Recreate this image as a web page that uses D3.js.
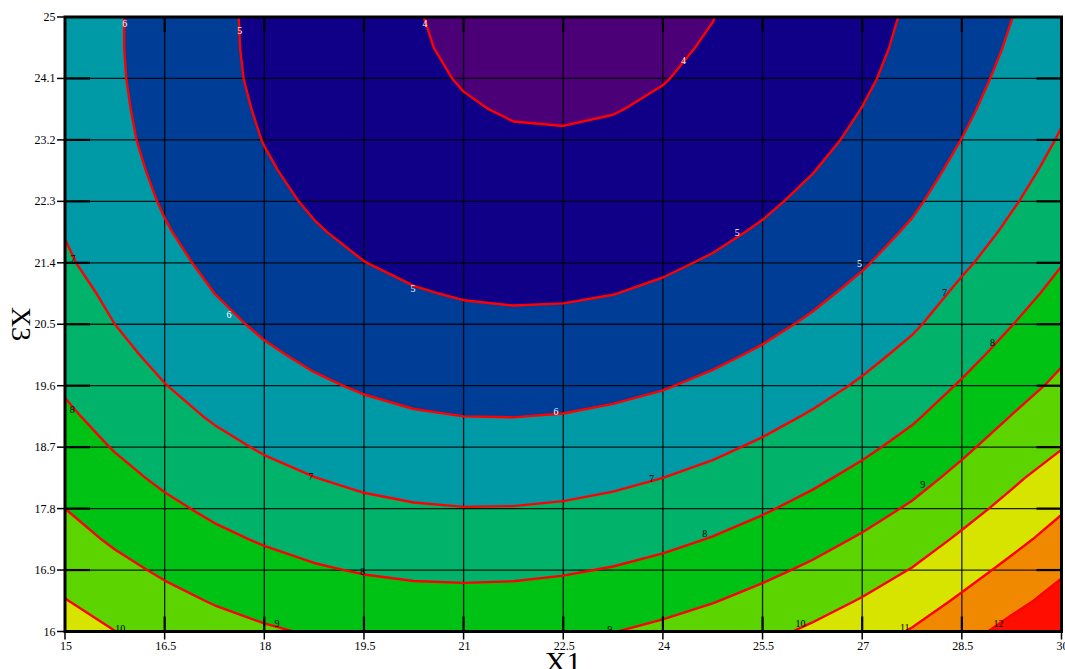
<!DOCTYPE html>
<html>
<head>
<meta charset="utf-8">
<script src="https://cdn.jsdelivr.net/npm/d3@7"></script>
<style>
body { margin: 0; background: #fff; }
svg { display: block; }
text { font-family: "Liberation Serif", "Times New Roman", serif; }
</style>
</head>
<body>
<script>
// response surface grid
var x1Values = [15, 15.75, 16.5, 17.25, 18, 18.75, 19.5, 20.25, 21, 21.75, 22.5,
                23.25, 24, 24.75, 25.5, 26.25, 27, 27.75, 28.5, 29.25, 30];
// rows from the top (X3 = 25) down to the bottom (X3 = 16)
var x3Values = [25, 24.55, 24.1, 23.65, 23.2, 22.75, 22.3, 21.85, 21.4, 20.95, 20.5,
                20.05, 19.6, 19.15, 18.7, 18.25, 17.8, 17.35, 16.9, 16.45, 16];
var zValues = [
  [6.63, 6.09, 5.61, 5.18, 4.81, 4.49, 4.23, 4.03, 3.88, 3.79, 3.76, 3.78, 3.86, 3.99, 4.19, 4.43, 4.74, 5.10, 5.52, 5.99, 6.55],
  [6.63, 6.09, 5.61, 5.19, 4.82, 4.51, 4.25, 4.06, 3.91, 3.83, 3.80, 3.83, 3.91, 4.05, 4.24, 4.50, 4.80, 5.17, 5.60, 6.09, 6.64],
  [6.64, 6.11, 5.63, 5.21, 4.85, 4.55, 4.30, 4.10, 3.97, 3.88, 3.86, 3.89, 3.98, 4.12, 4.32, 4.58, 4.89, 5.26, 5.71, 6.22, 6.76],
  [6.67, 6.15, 5.68, 5.26, 4.91, 4.60, 4.36, 4.17, 4.04, 3.96, 3.94, 3.98, 4.07, 4.22, 4.43, 4.69, 5.01, 5.38, 5.85, 6.36, 6.90],
  [6.71, 6.20, 5.74, 5.33, 4.98, 4.68, 4.45, 4.26, 4.14, 4.06, 4.05, 4.09, 4.19, 4.34, 4.55, 4.82, 5.14, 5.52, 6.01, 6.52, 7.07],
  [6.78, 6.28, 5.83, 5.42, 5.08, 4.79, 4.55, 4.37, 4.25, 4.19, 4.18, 4.23, 4.33, 4.49, 4.71, 4.98, 5.31, 5.69, 6.19, 6.71, 7.26],
  [6.86, 6.39, 5.93, 5.54, 5.20, 4.91, 4.68, 4.51, 4.39, 4.33, 4.33, 4.38, 4.49, 4.66, 4.88, 5.16, 5.49, 5.88, 6.39, 6.92, 7.46],
  [6.97, 6.51, 6.06, 5.67, 5.34, 5.06, 4.83, 4.67, 4.56, 4.50, 4.51, 4.56, 4.68, 4.85, 5.08, 5.36, 5.70, 6.10, 6.61, 7.15, 7.70],
  [7.10, 6.65, 6.21, 5.83, 5.50, 5.22, 5.01, 4.85, 4.74, 4.69, 4.70, 4.77, 4.89, 5.07, 5.30, 5.59, 5.93, 6.34, 6.87, 7.40, 7.97],
  [7.31, 6.82, 6.38, 6.00, 5.68, 5.41, 5.20, 5.05, 4.95, 4.91, 4.92, 4.99, 5.12, 5.30, 5.54, 5.84, 6.19, 6.60, 7.16, 7.68, 8.24],
  [7.49, 7.00, 6.57, 6.20, 5.88, 5.62, 5.42, 5.27, 5.18, 5.14, 5.17, 5.24, 5.38, 5.56, 5.81, 6.11, 6.47, 6.89, 7.42, 7.98, 8.55],
  [7.69, 7.21, 6.79, 6.42, 6.11, 5.86, 5.66, 5.52, 5.43, 5.40, 5.43, 5.51, 5.65, 5.85, 6.10, 6.41, 6.78, 7.20, 7.73, 8.31, 8.88],
  [7.90, 7.43, 7.02, 6.66, 6.36, 6.11, 5.92, 5.78, 5.71, 5.68, 5.72, 5.81, 5.95, 6.16, 6.42, 6.73, 7.10, 7.53, 8.08, 8.66, 9.18],
  [8.15, 7.68, 7.27, 6.92, 6.63, 6.39, 6.20, 6.07, 6.00, 5.99, 6.03, 6.13, 6.28, 6.49, 6.75, 7.08, 7.46, 7.89, 8.44, 9.02, 9.55],
  [8.41, 7.95, 7.55, 7.21, 6.92, 6.68, 6.51, 6.39, 6.32, 6.31, 6.36, 6.47, 6.63, 6.84, 7.12, 7.45, 7.83, 8.27, 8.83, 9.42, 9.96],
  [8.69, 8.24, 7.85, 7.51, 7.23, 7.01, 6.83, 6.72, 6.66, 6.66, 6.72, 6.83, 7.00, 7.22, 7.50, 7.84, 8.23, 8.68, 9.24, 9.84, 10.44],
  [9.00, 8.55, 8.17, 7.84, 7.56, 7.34, 7.18, 7.07, 7.02, 7.03, 7.09, 7.21, 7.39, 7.62, 7.91, 8.25, 8.65, 9.11, 9.68, 10.27, 10.91],
  [9.32, 8.88, 8.51, 8.18, 7.92, 7.70, 7.55, 7.45, 7.41, 7.42, 7.50, 7.62, 7.80, 8.04, 8.34, 8.69, 9.10, 9.56, 10.14, 10.74, 11.36],
  [9.67, 9.24, 8.87, 8.55, 8.29, 8.09, 7.94, 7.85, 7.82, 7.84, 7.92, 8.05, 8.24, 8.49, 8.80, 9.15, 9.57, 10.04, 10.63, 11.24, 11.88],
  [10.03, 9.61, 9.25, 8.94, 8.69, 8.49, 8.36, 8.27, 8.25, 8.28, 8.36, 8.51, 8.71, 8.96, 9.27, 9.64, 10.06, 10.54, 11.14, 11.75, 12.32],
  [10.42, 10.01, 9.65, 9.35, 9.11, 8.92, 8.79, 8.72, 8.70, 8.74, 8.83, 8.98, 9.19, 9.45, 9.77, 10.15, 10.58, 11.07, 11.68, 12.29, 12.87]
];

var levels = [4, 5, 6, 7, 8, 9, 10, 11, 12];
var bandColors = ["#4b0078", "#100088", "#003d96", "#0099a6", "#00b26a",
                  "#00c214", "#5cd400", "#d6e400", "#f08800", "#ff0e00"];

var xTicks = [15, 16.5, 18, 19.5, 21, 22.5, 24, 25.5, 27, 28.5, 30];
var yTicks = [16, 16.9, 17.8, 18.7, 19.6, 20.5, 21.4, 22.3, 23.2, 24.1, 25];

// level labels sitting on the lines: [X1, X3, level]
var contourLabels = [
  [15.90, 24.91, 6], [17.63, 24.80, 5], [20.42, 24.91, 4], [24.31, 24.37, 4],
  [25.12, 21.85, 5], [26.96, 21.39, 5], [20.24, 21.02, 5], [17.47, 20.65, 6],
  [22.39, 19.22, 6], [15.12, 21.47, 7], [28.24, 20.96, 7], [28.96, 20.23, 8],
  [15.11, 19.25, 8], [18.70, 18.27, 7], [23.83, 18.24, 7], [27.91, 18.15, 9],
  [24.63, 17.43, 8], [19.48, 16.88, 8], [15.83, 16.04, 10], [18.19, 16.12, 9],
  [23.20, 16.03, 9], [26.07, 16.12, 10], [27.64, 16.06, 11], [29.05, 16.12, 12]
];

var width = 1065, height = 669;

var x = d3.scaleLinear().domain([15, 30]).range([65, 1061.5]);
var y = d3.scaleLinear().domain([16, 25]).range([631.5, 17]);

var svg = d3.select("body").append("svg")
            .attr("width", width)
            .attr("height", height);

var nx = x1Values.length, ny = x3Values.length;

// d3.contours puts sample i at i + 0.5; clamp so the outer frame lands on the axis edges
var gridX = d3.scaleLinear().domain([0.5, nx - 0.5]).range([x1Values[0], x1Values[nx - 1]]).clamp(true);
var gridY = d3.scaleLinear().domain([0.5, ny - 0.5]).range([x3Values[0], x3Values[ny - 1]]).clamp(true);

var flat = [];
zValues.forEach(row => row.forEach(v => flat.push(v)));

var contours = d3.contours().size([nx, ny]).thresholds(levels)(flat);

var toScreen = d3.geoTransform({
    point: function(px, py) { this.stream.point(x(gridX(px)), y(gridY(py))); }
});
var path = d3.geoPath(toScreen);

svg.append("clipPath").attr("id", "plot-clip")
   .append("rect")
   .attr("x", x(15)).attr("y", y(25))
   .attr("width", x(30) - x(15)).attr("height", y(16) - y(25));

var plot = svg.append("g").attr("clip-path", "url(#plot-clip)");

plot.append("rect")
    .attr("x", x(15)).attr("y", y(25))
    .attr("width", x(30) - x(15)).attr("height", y(16) - y(25))
    .attr("fill", bandColors[0]);

plot.selectAll("path.band")
    .data(contours)
    .join("path")
    .attr("class", "band")
    .attr("d", path)
    .attr("fill", (d, i) => bandColors[i + 1])
    .attr("fill-rule", "evenodd");

// grid
plot.selectAll("line.vgrid")
    .data(xTicks.slice(1, -1))
    .join("line")
    .attr("x1", d => x(d)).attr("x2", d => x(d))
    .attr("y1", y(25)).attr("y2", y(16))
    .attr("stroke", "#000").attr("stroke-width", 1.3).attr("stroke-opacity", 0.85);

plot.selectAll("line.hgrid")
    .data(yTicks.slice(1, -1))
    .join("line")
    .attr("y1", d => y(d)).attr("y2", d => y(d))
    .attr("x1", x(15)).attr("x2", x(30))
    .attr("stroke", "#000").attr("stroke-width", 1.3).attr("stroke-opacity", 0.85);

// inner tick marks
var inner = svg.append("g").attr("stroke", "#000").attr("stroke-width", 2.2);
xTicks.slice(1, -1).forEach(function(t) {
    inner.append("line").attr("x1", x(t)).attr("x2", x(t)).attr("y1", y(16)).attr("y2", y(16) - 15);
    inner.append("line").attr("x1", x(t)).attr("x2", x(t)).attr("y1", y(25)).attr("y2", y(25) + 15);
});
yTicks.slice(1, -1).forEach(function(t) {
    inner.append("line").attr("y1", y(t)).attr("y2", y(t)).attr("x1", x(15)).attr("x2", x(15) + 25);
    inner.append("line").attr("y1", y(t)).attr("y2", y(t)).attr("x1", x(30)).attr("x2", x(30) - 25);
});

// contour lines, leaving out the pieces that run along the frame
var edgeX = [x1Values[0], x1Values[nx - 1]];
var edgeY = [x3Values[0], x3Values[ny - 1]];
var isoPath = function(d) {
    var s = "";
    d.coordinates.forEach(function(poly) {
        poly.forEach(function(ring) {
            var pts = ring.map(p => [gridX(p[0]), gridY(p[1])]);
            var pen = false;
            for (var k = 1; k < pts.length; k++) {
                var a = pts[k - 1], b = pts[k];
                var onEdge = edgeX.some(e => a[0] === e && b[0] === e) ||
                             edgeY.some(e => a[1] === e && b[1] === e);
                if (onEdge) { pen = false; continue; }
                if (!pen) { s += "M" + x(a[0]) + "," + y(a[1]); pen = true; }
                s += "L" + x(b[0]) + "," + y(b[1]);
            }
        });
    });
    return s;
};

plot.selectAll("path.iso")
    .data(contours)
    .join("path")
    .attr("class", "iso")
    .attr("d", isoPath)
    .attr("fill", "none")
    .attr("stroke", "#ff0000")
    .attr("stroke-width", 2.4)
    .attr("stroke-linejoin", "round");

plot.selectAll("text.lvl")
    .data(contourLabels)
    .join("text")
    .attr("class", "lvl")
    .attr("x", d => x(d[0]))
    .attr("y", d => y(d[1]))
    .attr("text-anchor", "middle")
    .attr("dominant-baseline", "central")
    .attr("font-size", "10px")
    .attr("fill", d => d[2] <= 6 ? "#fff" : "#000")
    .text(d => d[2]);

// frame
svg.append("rect")
   .attr("x", x(15)).attr("y", y(25))
   .attr("width", x(30) - x(15)).attr("height", y(16) - y(25))
   .attr("fill", "none").attr("stroke", "#000").attr("stroke-width", 3);

// outer ticks and labels
svg.selectAll("line.xt")
   .data(xTicks)
   .join("line")
   .attr("x1", d => x(d)).attr("x2", d => x(d))
   .attr("y1", y(16)).attr("y2", y(16) + 8)
   .attr("stroke", "#000").attr("stroke-width", 1.5);

svg.selectAll("line.yt")
   .data(yTicks)
   .join("line")
   .attr("y1", d => y(d)).attr("y2", d => y(d))
   .attr("x1", x(15) - 8).attr("x2", x(15))
   .attr("stroke", "#000").attr("stroke-width", 1.5);

svg.selectAll("text.xl")
   .data(xTicks)
   .join("text")
   .attr("x", d => x(d) + 1)
   .attr("y", 650)
   .attr("text-anchor", "middle")
   .attr("font-size", "12px")
   .text(d => d);

svg.selectAll("text.yl")
   .data(yTicks)
   .join("text")
   .attr("x", 55.5)
   .attr("y", d => y(d))
   .attr("text-anchor", "end")
   .attr("dominant-baseline", "central")
   .attr("font-size", "12px")
   .text(d => d);

svg.append("text")
   .attr("x", 563)
   .attr("y", 672)
   .attr("text-anchor", "middle")
   .attr("font-size", "30px")
   .text("X1");

svg.append("text")
   .attr("transform", "translate(12,324) rotate(90)")
   .attr("text-anchor", "middle")
   .attr("font-size", "28px")
   .text("X3");
</script>
</body>
</html>
